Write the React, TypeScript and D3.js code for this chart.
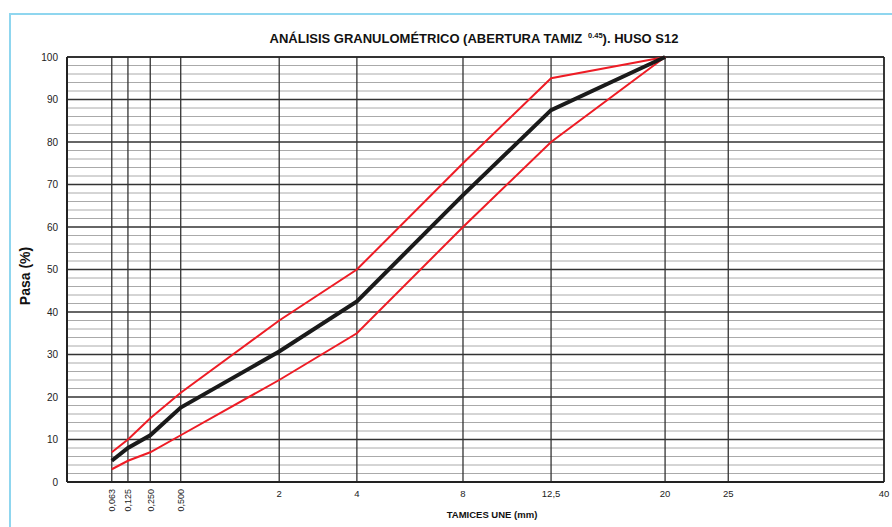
import React from "react";
import * as d3 from "d3";

const sieves = [0.063, 0.125, 0.25, 0.5, 2, 4, 8, 12.5, 20];
const gradingCurve = [5, 8, 11, 17.5, 30.7, 42.5, 67.5, 87.5, 100];
const upperLimit = [7, 10, 15, 21, 38, 50, 75, 95, 100];
const lowerLimit = [3, 5, 7, 11, 24, 35, 60, 80, 100];
const xTicks = [0.063, 0.125, 0.25, 0.5, 2, 4, 8, 12.5, 20, 25, 40];
const xTickLabels = ["0,063", "0,125", "0,250", "0,500", "2", "4", "8", "12,5", "20", "25", "40"];
const rotatedLabels = ["0,063", "0,125", "0,250", "0,500"];
const yMajor = [0, 10, 20, 30, 40, 50, 60, 70, 80, 90, 100];
const yMinor = d3.range(0, 101, 2).filter((v) => v % 10 !== 0);

const W = 892;
const H = 527;
const L = 67, R = 884, T = 57, B = 482;
const font = "Liberation Sans, Arial, sans-serif";

export default function App() {
  const x = d3.scalePow().exponent(0.45).domain([0, 40]).range([L, R]);
  const y = d3.scaleLinear().domain([0, 100]).range([B, T]);
  const line = d3
    .line<[number, number]>()
    .x((d) => x(d[0]))
    .y((d) => y(d[1]));
  const pts = (vals: number[]) => sieves.map((s, i) => [s, vals[i]] as [number, number]);

  return (
    <svg
      width={W}
      height={H}
      style={{ position: "absolute", left: 0, top: 0, background: "#fff" }}
      fontFamily={font}
    >
      <rect x={0} y={0} width={W} height={H} fill="#fff" />
      <rect x={10} y={14} width={W + 20} height={H + 20} fill="none" stroke="#8fd6ef" strokeWidth={2} />
      <text x={474} y={43} textAnchor="middle" fontSize={13} fontWeight="bold" fill="#111">
        ANÁLISIS GRANULOMÉTRICO (ABERTURA TAMIZ{" "}
        <tspan fontSize={7.5} dy={-5}>{"\u00a00.45"}</tspan>
        <tspan dy={5}>). HUSO S12</tspan>
      </text>
      {yMinor.map((v) => (
        <line key={"mn" + v} x1={L} x2={R} y1={y(v)} y2={y(v)} stroke="#aaa" strokeWidth={1} />
      ))}
      {yMajor.map((v) => (
        <line key={"mj" + v} x1={L} x2={R} y1={y(v)} y2={y(v)} stroke="#333" strokeWidth={1.3} />
      ))}
      {xTicks.map((t) => (
        <line key={"vx" + t} x1={x(t)} x2={x(t)} y1={T} y2={B} stroke="#333" strokeWidth={1.3} />
      ))}
      <line x1={L} x2={L} y1={T} y2={B} stroke="#222" strokeWidth={2} />
      <line x1={L} x2={R} y1={B} y2={B} stroke="#222" strokeWidth={2} />
      <line x1={L} x2={R} y1={T} y2={T} stroke="#222" strokeWidth={1.5} />
      <line x1={R} x2={R} y1={T} y2={B} stroke="#222" strokeWidth={1.5} />
      {yMajor.map((v) => (
        <text key={"yl" + v} x={58} y={y(v) + 3.5} textAnchor="end" fontSize={10} fill="#222">
          {v}
        </text>
      ))}
      {xTicks.map((t, i) => {
        const lab = xTickLabels[i];
        if (rotatedLabels.includes(lab)) {
          return (
            <text
              key={"xl" + t}
              transform={`translate(${x(t) + 3.5},489) rotate(-90)`}
              textAnchor="end"
              fontSize={9}
              fill="#222"
            >
              {lab}
            </text>
          );
        }
        return (
          <text key={"xl" + t} x={x(t)} y={497} textAnchor="middle" fontSize={9.5} fill="#222">
            {lab}
          </text>
        );
      })}
      <text x={492} y={518} textAnchor="middle" fontSize={9.5} fontWeight="bold" fill="#111">
        TAMICES UNE (mm)
      </text>
      <text
        transform="translate(30,276) rotate(-90)"
        textAnchor="middle"
        fontSize={14}
        fontWeight="bold"
        fill="#111"
      >
        Pasa (%)
      </text>
      <path d={line(pts(upperLimit)) || ""} fill="none" stroke="#ee1c25" strokeWidth={2} />
      <path d={line(pts(lowerLimit)) || ""} fill="none" stroke="#ee1c25" strokeWidth={2} />
      <path d={line(pts(gradingCurve)) || ""} fill="none" stroke="#1a1a1a" strokeWidth={4} />
    </svg>
  );
}
